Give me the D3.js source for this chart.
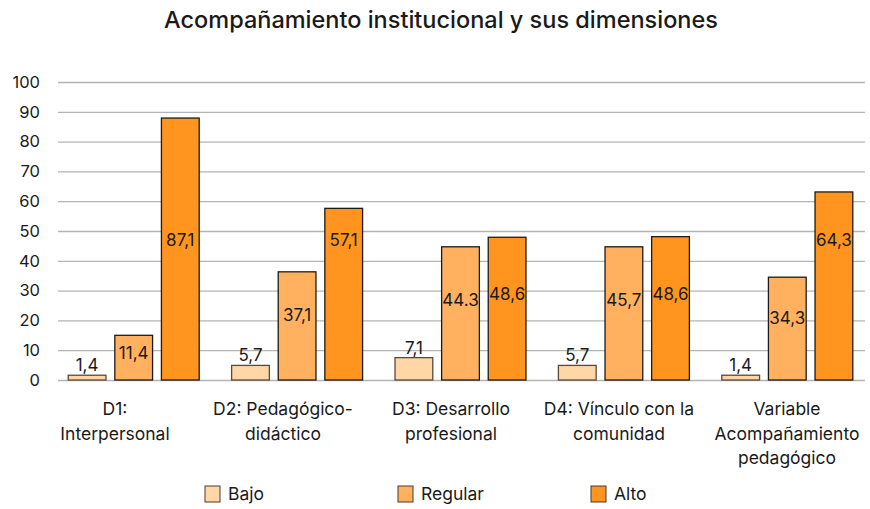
<!DOCTYPE html>
<html>
<head>
<meta charset="utf-8">
<script src="https://cdn.jsdelivr.net/npm/d3@7"></script>
<style>
  body { margin: 0; background: #fff; }
  text { font-family: Inter, "Noto Sans", sans-serif; fill: #1a1a1a; }
</style>
</head>
<body>
<div class="chart"></div>
<script>
// data
var categories = [
    ["D1:", "Interpersonal"],
    ["D2: Pedagógico-", "didáctico"],
    ["D3: Desarrollo", "profesional"],
    ["D4: Vínculo con la", "comunidad"],
    ["Variable", "Acompañamiento", "pedagógico"]
]
var seriesNames = ["Bajo", "Regular", "Alto"]
var colors = ["#ffd6a6", "#ffb160", "#ff951f"]

// bar heights as drawn
var bajo = [1.6, 4.9, 7.5, 4.9, 1.6]
var regular = [15.0, 36.3, 44.7, 44.7, 34.5]
var alto = [87.9, 57.6, 47.9, 48.1, 63.1]

// data labels as printed
var bajoLabels = ["1,4", "5,7", "7,1", "5,7", "1,4"]
var regularLabels = ["11,4", "37,1", "44.3", "45,7", "34,3"]
var altoLabels = ["87,1", "57,1", "48,6", "48,6", "64,3"]

var yTicks = [0, 10, 20, 30, 40, 50, 60, 70, 80, 90, 100]

var width = 870, height = 509

var svg = d3.select(".chart")
    .append("svg")
    .attr("width", width)
    .attr("height", height)

var catKeys = categories.map(function (c, i) { return i })

var x0 = d3.scaleBand()
    .domain(catKeys)
    .range([52, 869])
    .paddingInner(0.09)
    .paddingOuter(0.045)

var x1 = d3.scaleBand()
    .domain(seriesNames)
    .range([0, x0.bandwidth()])
    .padding(0.19)

var xLabel = d3.scaleBand()
    .domain(catKeys)
    .range([31, 871])

var y = d3.scaleLinear()
    .domain([0, 100])
    .range([380, 82])

var color = d3.scaleOrdinal().domain(seriesNames).range(colors)

// title
svg.append("text")
    .attr("x", 441)
    .attr("y", 28)
    .attr("text-anchor", "middle")
    .style("font-size", "23.5px")
    .style("font-weight", 500)
    .text("Acompañamiento institucional y sus dimensiones")

// gridlines + y labels
var yAxis = svg.append("g")
    .attr("class", "y axis")
    .attr("transform", "translate(58,0)")
    .call(d3.axisLeft(y).tickValues(yTicks).tickSize(-807).tickPadding(18))

yAxis.select(".domain").remove()
yAxis.selectAll(".tick line")
    .attr("stroke", "#b4b4b4")
    .attr("stroke-width", 1.3)
yAxis.selectAll(".tick text")
    .style("font-size", "16.5px")
    .attr("fill", "#1a1a1a")

// rows: one per category
var rows = catKeys.map(function (i) {
    return [
        { s: "Bajo", v: bajo[i], label: bajoLabels[i] },
        { s: "Regular", v: regular[i], label: regularLabels[i] },
        { s: "Alto", v: alto[i], label: altoLabels[i] }
    ]
})

var groups = svg.append("g")
    .selectAll("g.group")
    .data(rows)
    .enter()
    .append("g")
    .classed("group", true)
    .attr("transform", function (d, i) { return "translate(" + x0(i) + ",0)" })

groups.selectAll("rect")
    .data(function (d) { return d })
    .enter()
    .append("rect")
    .attr("x", function (d) { return x1(d.s) })
    .attr("y", function (d) { return y(d.v) })
    .attr("width", x1.bandwidth())
    .attr("height", function (d) { return y(0) - y(d.v) })
    .attr("fill", function (d) { return color(d.s) })
    .attr("stroke", function (d) { return d.s == "Bajo" ? "#5a4a3a" : "#1f1a14" })
    .attr("stroke-width", 1.3)

// data labels: small bars get theirs above, the others inside
groups.selectAll("text.val")
    .data(function (d) { return d })
    .enter()
    .append("text")
    .classed("val", true)
    .attr("x", function (d) { return x1(d.s) + x1.bandwidth() / 2 })
    .attr("y", function (d) {
        if (d.v < 10) return y(d.v) - 10
        if (d.v > 50) return y(47)
        return y(d.v * 0.6)
    })
    .attr("dy", "0.35em")
    .attr("text-anchor", "middle")
    .style("font-size", "17px")
    .text(function (d) { return d.label })

// category labels
svg.append("g")
    .selectAll("text.cat")
    .data(categories)
    .enter()
    .append("text")
    .classed("cat", true)
    .attr("x", function (d, i) { return xLabel(i) + xLabel.bandwidth() / 2 })
    .attr("y", 415)
    .attr("text-anchor", "middle")
    .style("font-size", "17.5px")
    .selectAll("tspan")
    .data(function (d) { return d })
    .enter()
    .append("tspan")
    .attr("x", function () { return d3.select(this.parentNode).attr("x") })
    .attr("dy", function (d, i) { return i == 0 ? 0 : 24.5 })
    .text(function (d) { return d })

// legend
var legendX = d3.scalePoint()
    .domain(seriesNames)
    .range([205, 591])

var legend = svg.append("g")
    .selectAll("g.legend")
    .data(seriesNames)
    .enter()
    .append("g")
    .classed("legend", true)
    .attr("transform", function (d) { return "translate(" + legendX(d) + ",486)" })

legend.append("rect")
    .attr("width", 15)
    .attr("height", 16)
    .attr("fill", function (d) { return color(d) })
    .attr("stroke", "#4a3a2a")
    .attr("stroke-width", 1)

legend.append("text")
    .attr("x", 23)
    .attr("y", 8)
    .attr("dy", "0.35em")
    .style("font-size", "17.5px")
    .text(function (d) { return d })
</script>
</body>
</html>
